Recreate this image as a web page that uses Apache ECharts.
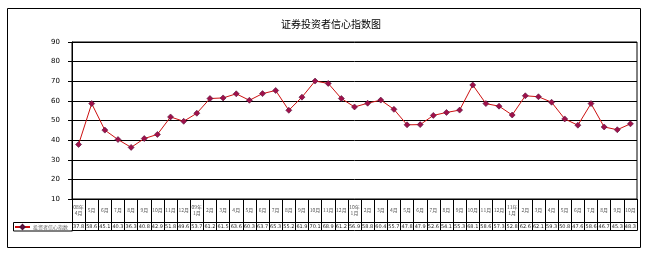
<!DOCTYPE html>
<html>
<head>
<meta charset="utf-8">
<script src="https://cdn.jsdelivr.net/npm/echarts@6/dist/echarts.min.js"></script>
<style>html,body{margin:0;padding:0;background:#fff}#c{width:649px;height:255px}</style>
</head>
<body>
<div id="c"></div>
<script>
var categories = ["08年\n4月","5月","6月","7月","8月","9月","10月","11月","12月",
  "09年\n1月","2月","3月","4月","5月","6月","7月","8月","9月","10月","11月","12月",
  "10年\n1月","2月","3月","4月","5月","6月","7月","8月","9月","10月","11月","12月",
  "11年\n1月","2月","3月","4月","5月","6月","7月","8月","9月","10月"];
var values = [37.8,58.6,45.1,40.3,36.3,40.8,42.9,51.8,49.6,
  53.7,61.2,61.5,63.6,60.3,63.7,65.3,55.2,61.9,70.1,68.9,61.2,
  56.9,58.8,60.4,55.7,47.8,47.9,52.6,54.1,55.3,68.1,58.6,57.3,
  52.8,62.6,62.1,59.3,50.8,47.6,58.6,46.7,45.3,48.3];
var yTicks = {min:10, max:90, interval:10};
var seriesName = "投资者信心指数";
var titleText = "证券投资者信心指数图";

var chart = echarts.init(document.getElementById('c'), null, {renderer:'canvas'});
var valueLabels = values.map(function(v){return v.toFixed(1);});
chart.setOption({
  animation:false,
  backgroundColor:'#fff',
  title:{text:titleText, left:326, top:14, textAlign:'center',
    textStyle:{fontSize:10, fontWeight:'normal', color:'#000', fontFamily:'Noto Sans CJK SC'}},
  legend:{left:14, top:224, padding:0, itemWidth:15, itemHeight:5, itemGap:2,
    textStyle:{fontSize:5, color:'#666', fontFamily:'Noto Sans CJK SC', padding:[0,0,0,-2]},
    data:[seriesName]},
  grid:{left:72, right:12, top:42, bottom:56, show:true, borderColor:'#000', borderWidth:1},
  xAxis:[
    {type:'category', data:categories, boundaryGap:true, gridIndex:0, position:'bottom',
      axisLine:{show:true, lineStyle:{color:'#000', width:1}},
      axisTick:{show:true, interval:0, length:23, lineStyle:{color:'#000', width:1}},
      axisLabel:{interval:0, margin:11.5, verticalAlign:'middle', fontSize:5, lineHeight:6,
        color:'#555', fontFamily:'Noto Sans CJK SC'}},
    {type:'category', data:valueLabels, boundaryGap:true, gridIndex:0, position:'bottom', offset:23,
      axisLine:{show:true, lineStyle:{color:'#000', width:1}},
      axisTick:{show:true, interval:0, length:8.5, lineStyle:{color:'#000', width:1}},
      axisLabel:{interval:0, margin:4.5, verticalAlign:'middle', fontSize:5,
        color:'#222', fontFamily:'DejaVu Sans'}},
    {type:'category', data:valueLabels, boundaryGap:true, gridIndex:0, position:'bottom', offset:31.5,
      axisLine:{show:true, lineStyle:{color:'#000', width:1}},
      axisTick:{show:false}, axisLabel:{show:false}}
  ],
  yAxis:{type:'value', min:yTicks.min, max:yTicks.max, interval:yTicks.interval,
    axisLine:{show:true, lineStyle:{color:'#000', width:1}},
    axisTick:{show:true, length:4, lineStyle:{color:'#000'}},
    axisLabel:{margin:12, fontSize:7, color:'#000', fontFamily:'DejaVu Sans'},
    splitLine:{show:true, lineStyle:{color:'#000', width:1}}},
  graphic:[
    {type:'rect', shape:{x:7.5, y:8.5, width:633, height:239}, style:{fill:null, stroke:'#000', lineWidth:1}, silent:true},
    {type:'rect', shape:{x:13.5, y:222.5, width:59, height:8.5}, style:{fill:null, stroke:'#000', lineWidth:1}, silent:true}
  ],
  series:[{
    name:seriesName, type:'line', data:values, xAxisIndex:0,
    symbol:'diamond', symbolSize:6, showSymbol:true,
    lineStyle:{color:'#CC1010', width:1},
    itemStyle:{color:'#A0104A', borderColor:'#50103A', borderWidth:0.6}
  }]
});
</script>
</body>
</html>
